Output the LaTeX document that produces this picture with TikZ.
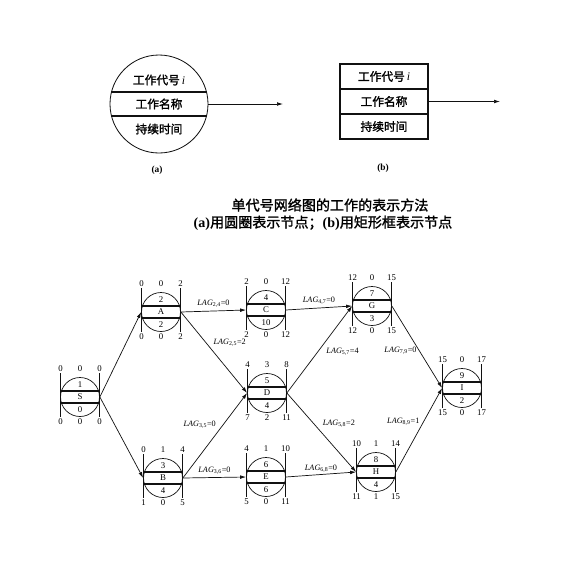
\documentclass[tikz,border=0pt]{standalone}
\usepackage{fontspec}
\setmainfont{Liberation Serif}
\newfontfamily\cjk[FakeBold=1.5]{Noto Sans CJK SC}
\usepackage{xcolor}
\usepackage{tikz}
\usetikzlibrary{arrows.meta}
\definecolor{netInk}{HTML}{111111}
\tikzset{
  flow/.style={
    -{Latex[length=1.8mm,width=1.1mm]},
    line width=0.6pt,
    draw=netInk
  },
  bigcircle/.style={
    circle,
    draw=netInk,
    line width=0.7pt,
    minimum size=29.4mm,
    inner sep=0pt
  },
  rowbox/.style={
    rectangle,
    draw=netInk,
    line width=0.9pt,
    minimum width=26.4mm,
    minimum height=7.5mm,
    inner sep=0pt,
    font=\fontsize{10}{12}\selectfont
  },
  bigtext/.style={
    inner sep=0pt,
    font=\fontsize{10}{12}\selectfont
  },
  netcircle/.style={
    circle,
    draw=netInk,
    line width=0.6pt,
    minimum size=11.7mm,
    inner sep=0pt
  },
  bandline/.style={
    line width=1.2pt,
    draw=netInk
  },
  sidebar/.style={
    line width=0.9pt,
    draw=netInk
  },
  rowtext/.style={
    inner sep=0pt,
    font=\fontsize{7.5}{8}\selectfont
  },
  lag/.style={
    inner sep=0.5pt,
    font=\fontsize{7}{8}\selectfont
  },
  pics/netnode/.style args={#1/#2/#3/#4/#5/#6/#7/#8/#9}{code={
    \node[netcircle] (-c) at (0,0) {};
    \draw[bandline] (-19.5,-6) -- (19.5,-6);
    \draw[bandline] (-19.5,6) -- (19.5,6);
    \draw[sidebar] (-19.5,-24) -- (-19.5,20);
    \draw[sidebar] (19.5,-24) -- (19.5,20);
    \node[rowtext] (-k) at (0,-12.5) {#1};
    \node[rowtext] (-n) at (0,0) {#2};
    \node[rowtext] (-d) at (0,12.5) {#3};
    \node[rowtext] (-es) at (-19.5,-28.5) {#4};
    \node[rowtext] (-tf) at (0,-28.5) {#5};
    \node[rowtext] (-ef) at (19.5,-28.5) {#6};
    \node[rowtext] (-ls) at (-19.5,25) {#7};
    \node[rowtext] (-ff) at (0,25) {#8};
    \node[rowtext] (-lf) at (19.5,25) {#9};
  }}
}

\begin{document}
\begin{tikzpicture}[x=0.03cm,y=-0.03cm]
  \useasboundingbox (0,0) rectangle (565,578);

  % (a) circle node
  \node[bigcircle] (roundNode) at (159,104) {};
  \draw[bandline,line width=1pt] (111.3,92) -- (206.7,92);
  \draw[bandline,line width=1pt] (111.3,116) -- (206.7,116);
  \node[bigtext] (roundNo) at (159,80) {\cjk 工作代号\,{\rmfamily\itshape i}};
  \node[bigtext] (roundName) at (159,104) {\cjk 工作名称};
  \node[bigtext] (roundTime) at (159,129) {\cjk 持续时间};
  \coordinate (roundEnd) at (283,104);
  \draw[flow] (roundNode.east) -- (roundEnd);
  \node[font=\fontsize{8}{9}\selectfont\bfseries] (capA) at (157,170) {(a)};

  % (b) box node
  \node[rowbox] (boxNo) at (384,76.5) {\cjk 工作代号\,{\rmfamily\itshape i}};
  \node[rowbox] (boxName) at (384,101.5) {\cjk 工作名称};
  \node[rowbox] (boxTime) at (384,126.5) {\cjk 持续时间};
  \coordinate (boxEnd) at (500,101.5);
  \draw[flow] (boxName.east) -- (boxEnd);
  \node[font=\fontsize{8}{9}\selectfont\bfseries] (capB) at (383,168) {(b)};

  % caption
  \node[font=\fontsize{12}{14}\selectfont] (capLine1) at (330,205) {\cjk 单代号网络图的工作的表示方法};
  \node[font=\fontsize{12}{14}\selectfont] (capLine2) at (323,223)
    {{\bfseries (a)}{\cjk 用圆圈表示节点；}{\bfseries (b)}{\cjk 用矩形框表示节点}};

  % network
  \pic (S) at (80,397) {netnode={1/S/0/0/0/0/0/0/0}};
  \pic (A) at (161,312) {netnode={2/A/2/0/0/2/0/0/2}};
  \pic (B) at (163,478) {netnode={3/B/4/0/1/4/1/0/5}};
  \pic (C) at (266,310) {netnode={4/C/10/2/0/12/2/0/12}};
  \pic (D) at (267,393) {netnode={5/D/4/4/3/8/7/2/11}};
  \pic (E) at (266,477) {netnode={6/E/6/4/1/10/5/0/11}};
  \pic (G) at (372,306) {netnode={7/G/3/12/0/15/12/0/15}};
  \pic (H) at (376,472) {netnode={8/H/4/10/1/14/11/1/15}};
  \pic (I) at (462,388) {netnode={9/I/2/15/0/17/15/0/17}};

  \draw[flow] (S-c.east) -- (A-c.west);
  \draw[flow] (S-c.east) -- (B-c.west);
  \draw[flow] (A-c.east) -- node[lag,above=0.8mm] (lag24) {\textit{LAG}\textsubscript{2,4}=0} (C-c.west);
  \draw[flow] (A-c.east) -- node[lag,pos=0.38,right=2mm] (lag25) {\textit{LAG}\textsubscript{2,5}=2} (D-c.west);
  \draw[flow] (B-c.east) -- node[lag,pos=0.63,left=2mm] (lag35) {\textit{LAG}\textsubscript{3,5}=0} (D-c.west);
  \draw[flow] (B-c.east) -- node[lag,above=0.6mm] (lag36) {\textit{LAG}\textsubscript{3,6}=0} (E-c.west);
  \draw[flow] (C-c.east) -- node[lag,above=0.8mm] (lag47) {\textit{LAG}\textsubscript{4,7}=0} (G-c.west);
  \draw[flow] (D-c.east) -- node[lag,pos=0.47,right=2.4mm] (lag57) {\textit{LAG}\textsubscript{5,7}=4} (G-c.west);
  \draw[flow] (D-c.east) -- node[lag,pos=0.39,right=2.4mm] (lag58) {\textit{LAG}\textsubscript{5,8}=2} (H-c.west);
  \draw[flow] (E-c.east) -- node[lag,above=0.4mm] (lag68) {\textit{LAG}\textsubscript{6,8}=0} (H-c.west);
  \draw[flow] (G-c.east) -- node[lag,pos=0.55,left=0.6mm] (lag79) {\textit{LAG}\textsubscript{7,9}=0} (I-c.west);
  \draw[flow] (H-c.east) -- node[lag,pos=0.6,left=1mm] (lag89) {\textit{LAG}\textsubscript{8,9}=1} (I-c.west);
\end{tikzpicture}
\end{document}
